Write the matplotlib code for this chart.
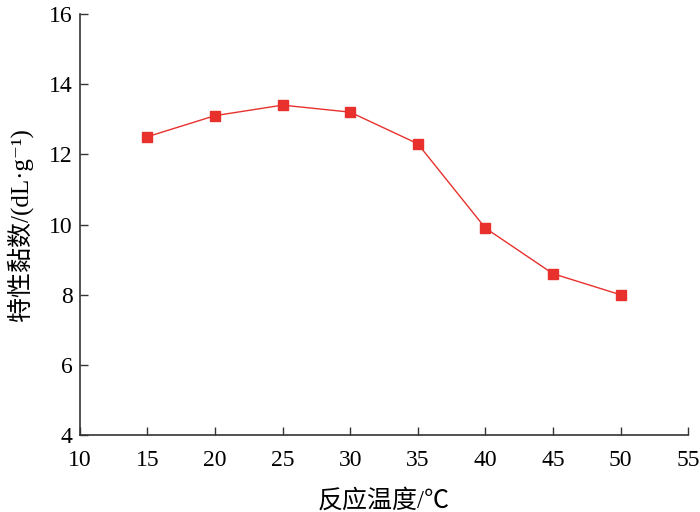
import matplotlib
matplotlib.use('Agg')
import matplotlib.pyplot as plt

# reaction temperature vs intrinsic viscosity
temps = [15, 20, 25, 30, 35, 40, 45, 50]
viscosity = [12.5, 13.1, 13.4, 13.2, 12.3, 9.9, 8.6, 8.0]
x_ticks = [10, 15, 20, 25, 30, 35, 40, 45, 50, 55]
y_ticks = [4, 6, 8, 10, 12, 14, 16]

plt.rcParams['font.family'] = ['Liberation Serif', 'Noto Sans CJK SC', 'DejaVu Serif']

fig = plt.figure(figsize=(7, 5.12), dpi=100)
ax = fig.add_axes([0.114, 0.150, 0.869, 0.823])

ax.plot(temps, viscosity, color='#e8312c', linewidth=1.0,
        marker='s', markersize=7, markerfacecolor='#e8312c', markeredgecolor='#e8312c')

ax.set_xlim(10, 55)
ax.set_ylim(4, 16)
ax.set_xticks(x_ticks)
ax.set_yticks(y_ticks)

for side in ['top', 'right']:
    ax.spines[side].set_visible(False)
for side in ['left', 'bottom']:
    ax.spines[side].set_color('#333333')
    ax.spines[side].set_linewidth(1.2)

ax.tick_params(direction='in', length=6, width=1.0, color='#333333', labelsize=17)
ax.tick_params(axis='x', pad=11)
ax.tick_params(axis='y', pad=5)

ax.set_xlabel('反应温度/℃', fontsize=18)
ax.set_ylabel('特性黏数/(dL·g⁻¹)', fontsize=18)
ax.xaxis.set_label_coords(0.5, -0.154)
ax.xaxis.label.set_va('center')
ax.yaxis.set_label_coords(-0.099, 0.5)
ax.yaxis.label.set_va('center')

fig.savefig('out.png', dpi=100)
